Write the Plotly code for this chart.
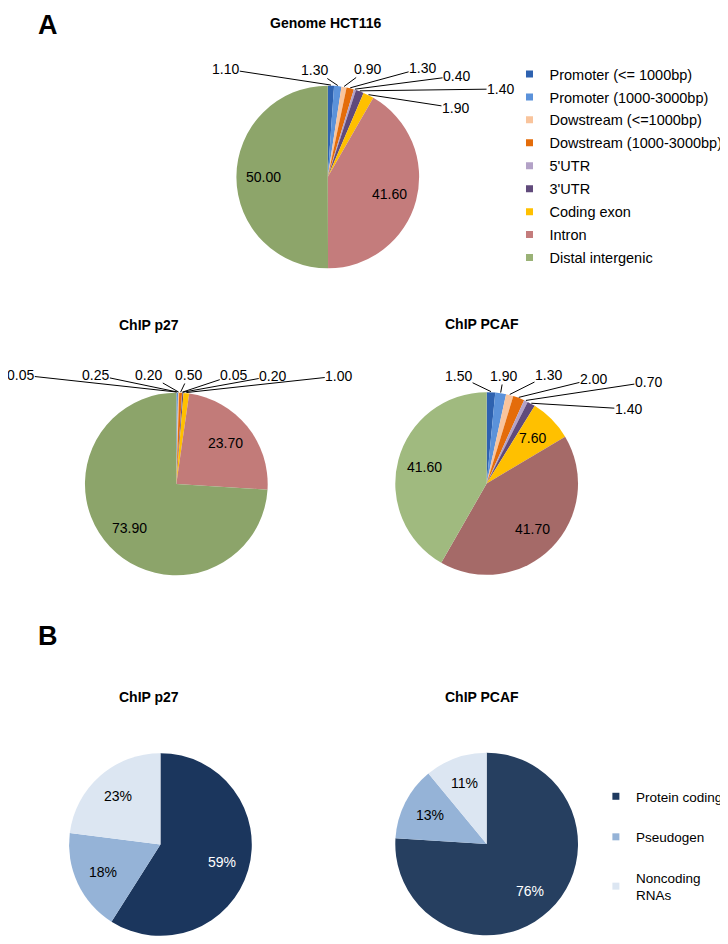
import math
import plotly.graph_objects as go

# ---------------- data ----------------
region_labels = ["Promoter (<= 1000bp)", "Promoter (1000-3000bp)", "Dowstream (<=1000bp)",
                 "Dowstream (1000-3000bp)", "5'UTR", "3'UTR", "Coding exon", "Intron",
                 "Distal intergenic"]
genome_hct116 = [1.10, 1.30, 0.90, 1.30, 0.40, 1.40, 1.90, 41.60, 50.00]
chip_p27 = [0.05, 0.25, 0.20, 0.50, 0.05, 0.20, 1.00, 23.70, 73.90]
chip_pcaf = [1.50, 1.90, 1.30, 2.00, 0.70, 1.40, 7.60, 41.70, 41.60]

gene_labels = ["Protein coding", "Pseudogen", "Noncoding<br>RNAs"]
gene_p27 = [59, 18, 23]
gene_pcaf = [76, 13, 11]

# ---------------- style / layout ----------------
PAGE_W, PAGE_H = 728, 944
OFF = 8                      # page body margin in the browser
FW, FH = PAGE_W - OFF, PAGE_H - OFF
FONT = "Liberation Sans, Arial, Helvetica, sans-serif"

region_colors_base = ["#2E62B0", "#5B92DA", "#F9C49C", "#E46C0A", "#B3A2C7", "#604A7B", "#FFC000"]
intron_colors = {"genome": "#C47C7C", "p27": "#C27B79", "pcaf": "#A56A68"}
distal_colors = {"genome": "#8DA56A", "p27": "#8CA46A", "pcaf": "#A0BA7F"}
gene_colors_p27 = ["#1B365D", "#95B3D7", "#DCE6F2"]
gene_colors_pcaf = ["#263F60", "#95B3D7", "#DCE6F2"]
legend_region_colors = region_colors_base + ["#C47C7C", "#9AB276"]
legend_gene_colors = ["#1F3A60", "#95B3D7", "#DCE6F2"]

R = 92
pies = [
    dict(key="genome", vals=genome_hct116, c=(330, 177), title="Genome HCT116", tpos=(328, 23),
         out_pos=[(228, 69), (317, 70), (370, 69), (425, 68), (459, 76), (503, 89), (458, 108)]),
    dict(key="p27", vals=chip_p27, c=(177.5, 484), title="ChIP p27", tpos=(150, 325),
         out_pos=[(22, 375), (97, 375), (150, 375), (190, 375), (235, 375), (274, 376), (340, 376)]),
    dict(key="pcaf", vals=chip_pcaf, c=(490, 483.5), title="ChIP PCAF", tpos=(485, 324),
         out_pos=[(462, 376), (507, 376), (552, 375), (597, 379), (652, 382), (632, 409)]),
]
gene_pies = [
    dict(vals=gene_p27, colors=gene_colors_p27, c=(161.5, 844.5), title="ChIP p27", tpos=(150, 697)),
    dict(vals=gene_pcaf, colors=gene_colors_pcaf, c=(490, 844), title="ChIP PCAF", tpos=(485, 697)),
]


def px2paper(x, y):
    return (x - OFF) / FW, 1 - (y - OFF) / FH


def domain(c, r):
    cx, cy = c
    x0, y1 = px2paper(cx - r, cy - r)
    x1, y0 = px2paper(cx + r, cy + r)
    return dict(x=[x0, x1], y=[y0, y1])


def mid_angles(vals):
    tot = sum(vals)
    out, cum = [], 0.0
    for v in vals:
        out.append(2 * math.pi * (cum + v / 2) / tot)
        cum += v
    return out


def text_ann(px, py, text, size=14, color="black"):
    x, y = px2paper(px, py)
    return dict(x=x, y=y, xref="paper", yref="paper", text=text, showarrow=False,
                xanchor="center", yanchor="middle",
                font=dict(family=FONT, size=size, color=color))


fig = go.Figure()
annotations = []

# panel letters
annotations.append(text_ann(48, 25, "<b>A</b>", size=27))
annotations.append(text_ann(48, 636, "<b>B</b>", size=27))

for p in pies:
    vals = p["vals"]
    colors = region_colors_base + [intron_colors[p["key"]], distal_colors[p["key"]]]
    fig.add_trace(go.Pie(values=vals, labels=region_labels, sort=False, direction="clockwise",
                         rotation=0, marker=dict(colors=colors, line=dict(width=0)),
                         textinfo="none", hoverinfo="label+value", showlegend=False,
                         domain=domain(p["c"], R)))
    cx, cy = p["c"]
    k = 0
    for v, t in zip(vals, mid_angles(vals)):
        if v < 5:
            ex, ey = cx + R * math.sin(t), cy - R * math.cos(t)
            lx, ly = p["out_pos"][k]
            k += 1
            x, y = px2paper(ex, ey)
            annotations.append(dict(x=x, y=y, xref="paper", yref="paper", text=f"{v:.2f}",
                                    showarrow=True, arrowhead=0, arrowwidth=1, arrowcolor="black",
                                    ax=lx - ex, ay=ly - ey, axref="pixel", ayref="pixel",
                                    xanchor="center", yanchor="middle",
                                    standoff=0, borderpad=0,
                                    font=dict(family=FONT, size=14, color="black")))
        else:
            annotations.append(text_ann(cx + 0.7 * R * math.sin(t), cy - 0.7 * R * math.cos(t),
                                        f"{v:.2f}"))
    annotations.append(text_ann(*p["tpos"], f"<b>{p['title']}</b>"))

for g in gene_pies:
    vals = g["vals"]
    fig.add_trace(go.Pie(values=vals, labels=gene_labels, sort=False, direction="clockwise",
                         rotation=0, marker=dict(colors=g["colors"], line=dict(width=0)),
                         textinfo="none", hoverinfo="label+value", showlegend=False,
                         domain=domain(g["c"], R)))
    cx, cy = g["c"]
    for i, (v, t) in enumerate(zip(vals, mid_angles(vals))):
        annotations.append(text_ann(cx + 0.7 * R * math.sin(t), cy - 0.7 * R * math.cos(t),
                                    f"{v}%", color="white" if i == 0 else "black"))
    annotations.append(text_ann(*g["tpos"], f"<b>{g['title']}</b>"))

# legend entries (square markers)
for lab, col in zip(region_labels, legend_region_colors):
    fig.add_trace(go.Scatter(x=[None], y=[None], mode="markers", name=lab, legend="legend",
                             legendgroup=lab, showlegend=True, hoverinfo="skip",
                             marker=dict(symbol="square", size=7, color=col)))
for lab, col in zip(gene_labels, legend_gene_colors):
    fig.add_trace(go.Scatter(x=[None], y=[None], mode="markers", name=lab, legend="legend2",
                             legendgroup="g_" + lab, showlegend=True, hoverinfo="skip",
                             marker=dict(symbol="square", size=7, color=col)))

lg1_x, lg1_y = px2paper(513, 58)
lg2_x, lg2_y = px2paper(600, 781)
fig.update_layout(
    width=FW, height=FH, margin=dict(l=0, r=0, t=0, b=0),
    paper_bgcolor="white", plot_bgcolor="white",
    font=dict(family=FONT, size=14, color="black"),
    xaxis=dict(visible=False), yaxis=dict(visible=False),
    annotations=annotations,
    legend=dict(x=lg1_x, y=lg1_y, xanchor="left", yanchor="top", traceorder="grouped",
                tracegroupgap=1.1, font=dict(family=FONT, size=14.5, color="black"),
                bgcolor="rgba(0,0,0,0)"),
    legend2=dict(x=lg2_x, y=lg2_y, xanchor="left", yanchor="top", traceorder="grouped",
                 tracegroupgap=20, font=dict(family=FONT, size=13.5, color="black"),
                 bgcolor="rgba(0,0,0,0)"),
)

fig.write_html("out.html")
